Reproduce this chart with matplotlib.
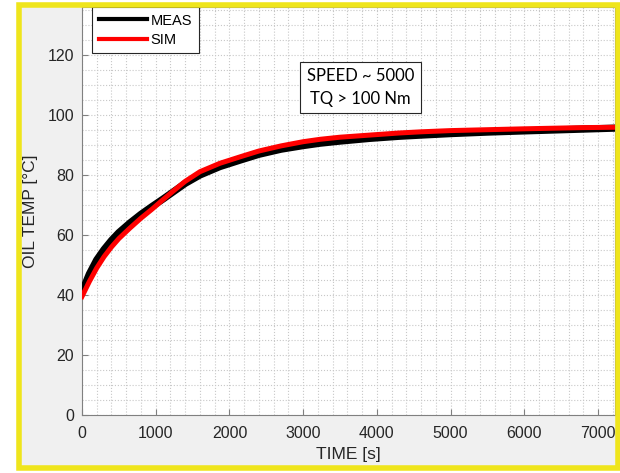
import matplotlib.pyplot as plt
from matplotlib.patches import Rectangle
from matplotlib.ticker import MultipleLocator

plt.rcParams["font.family"] = ["Liberation Sans", "DejaVu Sans"]

# values
time_s = [0, 100, 200, 300, 400, 500, 650, 800, 950, 1100, 1250, 1400, 1600, 1870,
          2150, 2400, 2700, 3000, 3230, 3500, 3900, 4300, 4600, 5000, 5500, 6000,
          6400, 6800, 7200]
meas_temp = [41.0, 47.0, 51.7, 55.2, 58.2, 60.8, 64.0, 66.9, 69.5, 72.0, 74.6, 77.2,
             80.0, 82.8, 85.0, 86.9, 88.6, 89.8, 90.6, 91.3, 92.2, 92.9, 93.3, 93.8,
             94.3, 94.7, 95.0, 95.3, 95.6]
sim_temp = [39.5, 44.5, 49.0, 52.8, 56.0, 58.8, 62.3, 65.6, 68.6, 71.8, 74.9, 77.9,
            81.1, 83.9, 86.1, 88.0, 89.7, 91.1, 91.9, 92.6, 93.3, 94.0, 94.4, 94.8,
            95.1, 95.4, 95.6, 95.8, 95.9]

note = "SPEED ~ 5000\nTQ > 100 Nm"

fig = plt.figure(figsize=(6.2, 4.73), dpi=100, facecolor="white")

# grey panel behind everything
fig.patches.append(Rectangle((19 / 620, 5 / 473), 599 / 620, 463 / 473,
                             transform=fig.transFigure, facecolor="#f0f0f0",
                             edgecolor="none", zorder=-2))

ax = fig.add_axes([82 / 620, 58 / 473, 533 / 620, 408 / 473])
ax.set_facecolor("white")

ax.plot(time_s, meas_temp, color="black", linewidth=5.2, label="MEAS", zorder=3)
ax.plot(time_s, sim_temp, color="red", linewidth=3.6, label="SIM", zorder=4)

ax.set_xlim(0, 7230)
ax.set_ylim(0, 136)
ax.xaxis.set_major_locator(MultipleLocator(1000))
ax.xaxis.set_minor_locator(MultipleLocator(200))
ax.yaxis.set_major_locator(MultipleLocator(20))
ax.yaxis.set_minor_locator(MultipleLocator(5))

ax.grid(True, which="both", linestyle=":", color="#c8c8c8", linewidth=0.8)
ax.set_axisbelow(True)
ax.tick_params(which="major", direction="in", length=4, labelsize=11.5,
               colors="#808080", labelcolor="#262626")
ax.tick_params(axis="x", which="major", pad=8)
ax.tick_params(axis="y", which="major", pad=5.5)
ax.tick_params(which="minor", length=0)
for s in ax.spines.values():
    s.set_color("#808080")
    s.set_linewidth(0.8)

ax.set_xlabel("TIME [s]", fontsize=12.5, color="#262626", labelpad=4)
ax.set_ylabel("OIL TEMP [°C]", fontsize=12.5, color="#262626", labelpad=7)

leg = ax.legend(loc="upper left", bbox_to_anchor=(0.019, 1.0), fontsize=10.5,
                fancybox=False, framealpha=1, edgecolor="#262626",
                handlelength=3.3, borderpad=0.45, labelspacing=0.35,
                handletextpad=0.25, borderaxespad=0)
leg.get_frame().set_linewidth(0.8)
for h in leg.get_lines():
    h.set_linewidth(3)

ax.text(0.5225, 0.8027, note, transform=ax.transAxes, fontsize=12,
        family=["Lato", "DejaVu Sans"], va="center", ha="center",
        linespacing=1.5,
        bbox=dict(boxstyle="square,pad=0.4", facecolor="white",
                  edgecolor="#262626", linewidth=0.8))

# yellow frame drawn on top of everything
fig.add_artist(Rectangle((19 / 620, 5 / 473), 599 / 620, 463 / 473,
                         transform=fig.transFigure, facecolor="none",
                         edgecolor="#efe51c", linewidth=4, zorder=10))

plt.savefig("out.png", dpi=100, facecolor=fig.get_facecolor())
